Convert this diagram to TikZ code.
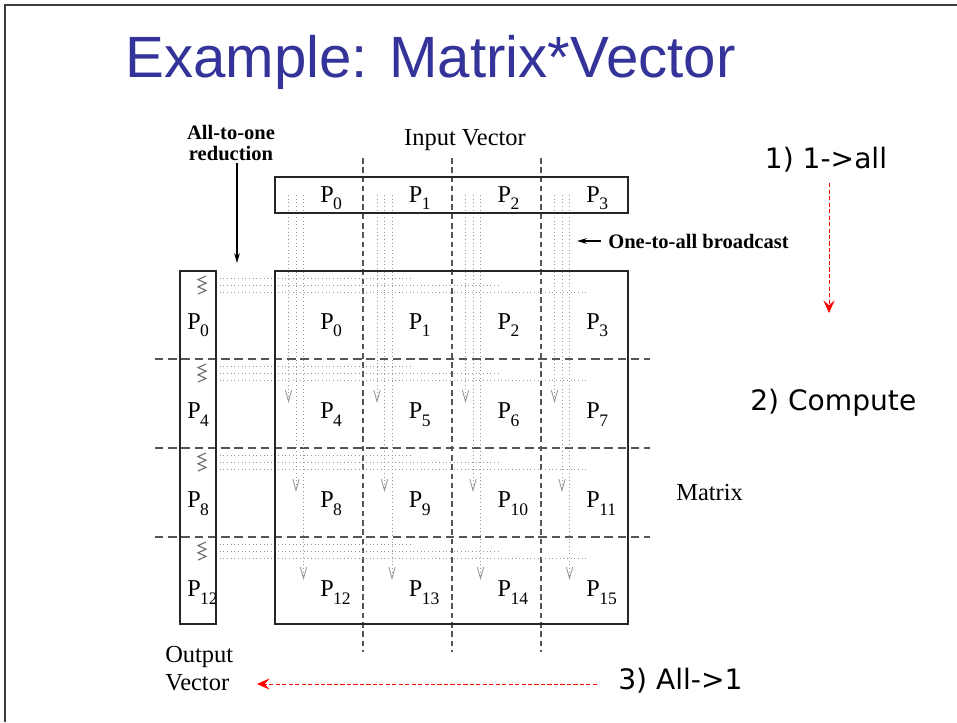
\documentclass[tikz,border=0pt]{standalone}
\usepackage{fontspec}
\setmainfont{Liberation Serif}
\newfontfamily\titleFont{Liberation Sans}
\newfontfamily\noteFont{DejaVu Sans}
\usetikzlibrary{arrows.meta,positioning}

\definecolor{titleColor}{RGB}{51,51,153}
\definecolor{cutColor}{RGB}{85,85,85}
\definecolor{dotColor}{RGB}{150,150,150}
\definecolor{zigColor}{RGB}{110,110,110}
\definecolor{frameColor}{RGB}{60,60,60}

% P with a subscript, as in the figure
\newcommand{\procLbl}[1]{P\kern-0.4pt\raisebox{-0.33em}{\fontsize{12.5}{12.5}\selectfont #1}}

\tikzset{
  box/.style={draw=black!85, line width=1.3pt},
  cutV/.style={cutColor, line width=0.9pt, dash pattern=on 4pt off 2.6pt},
  cutH/.style={cutColor, line width=0.9pt, dash pattern=on 6pt off 3.4pt},
  bcast/.style={dotColor, line width=0.5pt, dash pattern=on 0.6pt off 2pt,
    -{Straight Barb[length=8pt,width=4.5pt,line width=0.6pt]}},
  rdot/.style={dotColor, line width=0.5pt, dash pattern=on 0.6pt off 2pt},
  zig/.style={zigColor, line width=0.8pt},
  pLbl/.style={anchor=base west, inner sep=0pt, font=\fontsize{17.2}{20}\selectfont},
  txt/.style={inner sep=0pt, font=\fontsize{17.4}{20}\selectfont},
  boldTxt/.style={inner sep=0pt, font=\bfseries\fontsize{14.6}{17}\selectfont},
  noteTxt/.style={inner sep=0pt, font=\noteFont\fontsize{20}{24}\selectfont},
  blackArrow/.style={black, line width=0.8pt, -{Stealth[length=7pt,width=4pt]}},
  redArrow/.style={red, line width=0.7pt, dash pattern=on 3pt off 1.6pt,
    -{Stealth[length=9pt,width=8pt,inset=3.5pt]}}
}

\begin{document}
\begin{tikzpicture}[x=0.025cm, y=-0.025cm]
  \useasboundingbox (0,0) rectangle (957,722);
  % slide frame
  \draw[frameColor, line width=1.4pt] (5,722) -- (5,5) -- (957,5);
  \node[anchor=base west, inner sep=0pt, text=titleColor,
    font=\titleFont\fontsize{41.4}{50}\selectfont] (title) at (125,78) {Example: Matrix*Vector};

  % partition lines
  \foreach \x in {363,452,541}
    \draw[cutV] (\x,158) -- (\x,652);
  \foreach \y in {359,448,537}
    \draw[cutH] (155,\y) -- (650,\y);

  % one-to-all broadcast down each column
  \foreach \xc in {275,363.5,452,541}
    \foreach \k/\yt in {1/403,2/492,3/580}
      \draw[bcast] (\xc+6+7.5*\k,195) -- (\xc+6+7.5*\k,\yt);

  % all-to-one reduction along each row
  \foreach \yr in {271,359,448,537} {
    \foreach \k/\xe in {1/410,2/498,3/587}
      \draw[rdot] (216,\yr+7*\k) -- (\xe,\yr+7*\k);
    \draw[zig] (206,\yr+5) -- ++(-8,3.6) -- ++(8,3.6) -- ++(-8,3.6)
      -- ++(8,3.6) -- ++(-8,3.6);
  }

  % vectors and matrix
  \draw[box] (275,177) rectangle (628,213);
  \draw[box] (275,271) rectangle (628,624);
  \draw[box] (180,271) rectangle (216,624);

  \foreach \c in {0,...,3}
    \node[pLbl] (in\c) at (320+88.7*\c,202) {\procLbl{\c}};
  \foreach \r in {0,...,3} {
    \foreach \c in {0,...,3} {
      \pgfmathtruncatemacro{\idx}{4*\r+\c}
      \node[pLbl] (m\idx) at (320+88.7*\c,329+89.3*\r) {\procLbl{\idx}};
    }
    \pgfmathtruncatemacro{\idx}{4*\r}
    \node[pLbl] (out\r) at (187,329+89.3*\r) {\procLbl{\idx}};
  }

  % labels
  \node[txt, anchor=base] (inVecLbl) at (465,145) {Input Vector};
  \node[txt, anchor=base west] (matLbl) at (676,500) {Matrix};
  \node[txt, anchor=base west] (outVecA) at (165,662) {Output};
  \node[txt, anchor=base west] (outVecB) at (165,690) {Vector};

  \node[boldTxt, anchor=base] (redLblA) at (231,140) {All-to-one};
  \node[boldTxt, anchor=base] (redLblB) at (231,160) {reduction};
  \coordinate (redEnd) at (237,263);
  \draw[blackArrow, shorten <=2pt] (redLblB.south -| redEnd) -- (redEnd);

  \node[boldTxt, anchor=base west] (bcLbl) at (608,248) {One-to-all broadcast};
  \coordinate (bcEnd) at (577,241);
  \draw[blackArrow, shorten <=5pt] (bcLbl.west |- bcEnd) -- (bcEnd);

  % steps
  \node[noteTxt, anchor=base] (stepOne) at (826,168) {1) 1->all};
  \coordinate (oneEnd) at (829,313);
  \draw[redArrow, shorten <=8pt] (stepOne.south -| oneEnd) -- (oneEnd);
  \node[noteTxt, anchor=base west] (stepTwo) at (750,410) {2) Compute};
  \node[noteTxt, anchor=base west] (stepThree) at (618,689) {3) All->1};
  \coordinate (threeEnd) at (257,684);
  \draw[redArrow, shorten <=15pt] (stepThree.west |- threeEnd) -- (threeEnd);
\end{tikzpicture}
\end{document}
